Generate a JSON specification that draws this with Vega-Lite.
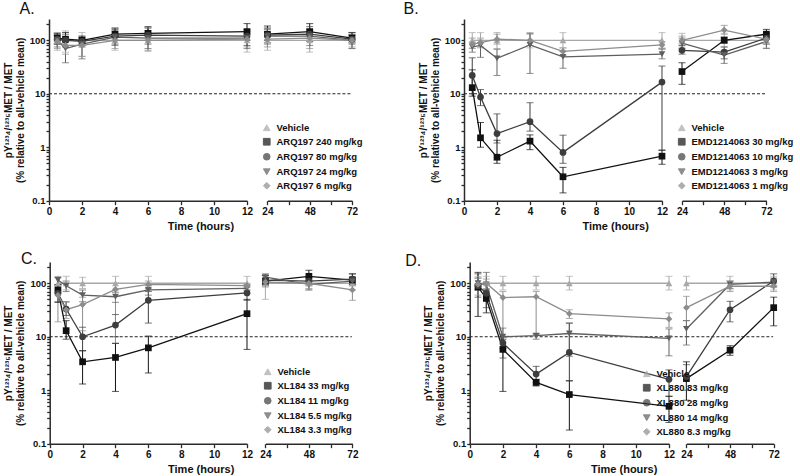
{
"width": 725, "height": 424.7,
"padding": {"left": 3, "top": 0, "right": 0, "bottom": 0},
"datasets": {
"A": [
{"s":"Vehicle","t":0.5,"v":100,"lo":65,"hi":140},{"s":"Vehicle","t":1,"v":100,"lo":60,"hi":150},{"s":"Vehicle","t":2,"v":100,"lo":50,"hi":140},{"s":"Vehicle","t":4,"v":100,"lo":65,"hi":165},{"s":"Vehicle","t":6,"v":100,"lo":62,"hi":170},{"s":"Vehicle","t":12,"v":100,"lo":60,"hi":150},{"s":"Vehicle","t":24,"v":100,"lo":65,"hi":165},{"s":"Vehicle","t":48,"v":100,"lo":60,"hi":160},{"s":"Vehicle","t":72,"v":100,"lo":70,"hi":140},
{"s":"ARQ197 240 mg/kg","t":0.5,"v":110,"lo":85,"hi":135},{"s":"ARQ197 240 mg/kg","t":1,"v":105,"lo":80,"hi":140},{"s":"ARQ197 240 mg/kg","t":2,"v":100,"lo":80,"hi":120},{"s":"ARQ197 240 mg/kg","t":4,"v":130,"lo":100,"hi":170},{"s":"ARQ197 240 mg/kg","t":6,"v":135,"lo":100,"hi":180},{"s":"ARQ197 240 mg/kg","t":12,"v":145,"lo":100,"hi":205},{"s":"ARQ197 240 mg/kg","t":24,"v":130,"lo":100,"hi":185},{"s":"ARQ197 240 mg/kg","t":48,"v":145,"lo":100,"hi":205},{"s":"ARQ197 240 mg/kg","t":72,"v":110,"lo":90,"hi":140},
{"s":"ARQ197 80 mg/kg","t":0.5,"v":105,"lo":85,"hi":130},{"s":"ARQ197 80 mg/kg","t":1,"v":100,"lo":75,"hi":130},{"s":"ARQ197 80 mg/kg","t":2,"v":95,"lo":75,"hi":115},{"s":"ARQ197 80 mg/kg","t":4,"v":120,"lo":85,"hi":160},{"s":"ARQ197 80 mg/kg","t":6,"v":125,"lo":85,"hi":170},{"s":"ARQ197 80 mg/kg","t":12,"v":120,"lo":80,"hi":160},{"s":"ARQ197 80 mg/kg","t":24,"v":125,"lo":90,"hi":170},{"s":"ARQ197 80 mg/kg","t":48,"v":130,"lo":95,"hi":180},{"s":"ARQ197 80 mg/kg","t":72,"v":105,"lo":85,"hi":130},
{"s":"ARQ197 24 mg/kg","t":0.5,"v":100,"lo":75,"hi":125},{"s":"ARQ197 24 mg/kg","t":1,"v":70,"lo":38,"hi":95},{"s":"ARQ197 24 mg/kg","t":2,"v":85,"lo":45,"hi":110},{"s":"ARQ197 24 mg/kg","t":4,"v":115,"lo":80,"hi":150},{"s":"ARQ197 24 mg/kg","t":6,"v":110,"lo":70,"hi":150},{"s":"ARQ197 24 mg/kg","t":12,"v":110,"lo":70,"hi":145},{"s":"ARQ197 24 mg/kg","t":24,"v":120,"lo":85,"hi":160},{"s":"ARQ197 24 mg/kg","t":48,"v":120,"lo":80,"hi":160},{"s":"ARQ197 24 mg/kg","t":72,"v":100,"lo":70,"hi":125},
{"s":"ARQ197 6 mg/kg","t":0.5,"v":95,"lo":70,"hi":125},{"s":"ARQ197 6 mg/kg","t":1,"v":80,"lo":55,"hi":110},{"s":"ARQ197 6 mg/kg","t":2,"v":80,"lo":50,"hi":105},{"s":"ARQ197 6 mg/kg","t":4,"v":100,"lo":70,"hi":135},{"s":"ARQ197 6 mg/kg","t":6,"v":100,"lo":65,"hi":140},{"s":"ARQ197 6 mg/kg","t":12,"v":105,"lo":75,"hi":135},{"s":"ARQ197 6 mg/kg","t":24,"v":105,"lo":75,"hi":140},{"s":"ARQ197 6 mg/kg","t":48,"v":110,"lo":70,"hi":150},{"s":"ARQ197 6 mg/kg","t":72,"v":100,"lo":75,"hi":125}
],
"B": [
{"s":"Vehicle","t":0.5,"v":100,"lo":72,"hi":139},{"s":"Vehicle","t":1,"v":100,"lo":72,"hi":139},{"s":"Vehicle","t":2,"v":100,"lo":70,"hi":140},{"s":"Vehicle","t":4,"v":100,"lo":72,"hi":139},{"s":"Vehicle","t":6,"v":100,"lo":72,"hi":139},{"s":"Vehicle","t":12,"v":100,"lo":72,"hi":139},{"s":"Vehicle","t":24,"v":100,"lo":75,"hi":135},{"s":"Vehicle","t":48,"v":100,"lo":75,"hi":135},{"s":"Vehicle","t":72,"v":100,"lo":72,"hi":139},
{"s":"EMD1214063 30 mg/kg","t":0.5,"v":13,"lo":9,"hi":28},{"s":"EMD1214063 30 mg/kg","t":1,"v":1.5,"lo":1.0,"hi":2.9},{"s":"EMD1214063 30 mg/kg","t":2,"v":0.65,"lo":0.5,"hi":1.35},{"s":"EMD1214063 30 mg/kg","t":4,"v":1.3,"lo":0.9,"hi":1.7},{"s":"EMD1214063 30 mg/kg","t":6,"v":0.28,"lo":0.14,"hi":0.42},{"s":"EMD1214063 30 mg/kg","t":12,"v":0.68,"lo":0.48,"hi":0.88},{"s":"EMD1214063 30 mg/kg","t":24,"v":26,"lo":15,"hi":38},{"s":"EMD1214063 30 mg/kg","t":48,"v":100,"lo":90,"hi":115},{"s":"EMD1214063 30 mg/kg","t":72,"v":130,"lo":105,"hi":160},
{"s":"EMD1214063 10 mg/kg","t":0.5,"v":22,"lo":12,"hi":47},{"s":"EMD1214063 10 mg/kg","t":1,"v":8.7,"lo":6,"hi":12},{"s":"EMD1214063 10 mg/kg","t":2,"v":1.8,"lo":1.2,"hi":4.2},{"s":"EMD1214063 10 mg/kg","t":4,"v":3.0,"lo":2.0,"hi":6.8},{"s":"EMD1214063 10 mg/kg","t":6,"v":0.8,"lo":0.5,"hi":1.68},{"s":"EMD1214063 10 mg/kg","t":12,"v":16.5,"lo":0.88,"hi":33},{"s":"EMD1214063 10 mg/kg","t":24,"v":65,"lo":55,"hi":80},{"s":"EMD1214063 10 mg/kg","t":48,"v":60,"lo":45,"hi":75},{"s":"EMD1214063 10 mg/kg","t":72,"v":110,"lo":85,"hi":135},
{"s":"EMD1214063 3 mg/kg","t":0.5,"v":75,"lo":60,"hi":92},{"s":"EMD1214063 3 mg/kg","t":1,"v":80,"lo":48,"hi":100},{"s":"EMD1214063 3 mg/kg","t":2,"v":46,"lo":22,"hi":68},{"s":"EMD1214063 3 mg/kg","t":4,"v":82,"lo":24,"hi":135},{"s":"EMD1214063 3 mg/kg","t":6,"v":49,"lo":30,"hi":62},{"s":"EMD1214063 3 mg/kg","t":12,"v":55,"lo":45,"hi":68},{"s":"EMD1214063 3 mg/kg","t":24,"v":88,"lo":70,"hi":110},{"s":"EMD1214063 3 mg/kg","t":48,"v":53,"lo":37,"hi":65},{"s":"EMD1214063 3 mg/kg","t":72,"v":95,"lo":70,"hi":115},
{"s":"EMD1214063 1 mg/kg","t":0.5,"v":85,"lo":70,"hi":110},{"s":"EMD1214063 1 mg/kg","t":1,"v":90,"lo":75,"hi":110},{"s":"EMD1214063 1 mg/kg","t":2,"v":105,"lo":85,"hi":130},{"s":"EMD1214063 1 mg/kg","t":4,"v":100,"lo":80,"hi":130},{"s":"EMD1214063 1 mg/kg","t":6,"v":62,"lo":52,"hi":72},{"s":"EMD1214063 1 mg/kg","t":12,"v":82,"lo":70,"hi":95},{"s":"EMD1214063 1 mg/kg","t":24,"v":100,"lo":85,"hi":120},{"s":"EMD1214063 1 mg/kg","t":48,"v":155,"lo":130,"hi":190},{"s":"EMD1214063 1 mg/kg","t":72,"v":105,"lo":85,"hi":125}
],
"C": [
{"s":"Vehicle","t":0.5,"v":100,"lo":75,"hi":135},{"s":"Vehicle","t":1,"v":100,"lo":75,"hi":135},{"s":"Vehicle","t":2,"v":100,"lo":80,"hi":130},{"s":"Vehicle","t":4,"v":100,"lo":75,"hi":135},{"s":"Vehicle","t":6,"v":100,"lo":75,"hi":135},{"s":"Vehicle","t":12,"v":100,"lo":75,"hi":135},{"s":"Vehicle","t":24,"v":100,"lo":50,"hi":135},{"s":"Vehicle","t":48,"v":100,"lo":75,"hi":125},{"s":"Vehicle","t":72,"v":100,"lo":75,"hi":130},
{"s":"XL184 33 mg/kg","t":0.5,"v":75,"lo":44,"hi":95},{"s":"XL184 33 mg/kg","t":1,"v":13,"lo":9,"hi":20},{"s":"XL184 33 mg/kg","t":2,"v":3.4,"lo":1.3,"hi":5.5},{"s":"XL184 33 mg/kg","t":4,"v":4.1,"lo":0.95,"hi":7.5},{"s":"XL184 33 mg/kg","t":6,"v":6.2,"lo":2.1,"hi":10.3},{"s":"XL184 33 mg/kg","t":12,"v":27,"lo":5.8,"hi":50},{"s":"XL184 33 mg/kg","t":24,"v":110,"lo":90,"hi":140},{"s":"XL184 33 mg/kg","t":48,"v":135,"lo":110,"hi":175},{"s":"XL184 33 mg/kg","t":72,"v":115,"lo":95,"hi":150},
{"s":"XL184 11 mg/kg","t":0.5,"v":65,"lo":45,"hi":90},{"s":"XL184 11 mg/kg","t":1,"v":33,"lo":25,"hi":45},{"s":"XL184 11 mg/kg","t":2,"v":10,"lo":5.5,"hi":15},{"s":"XL184 11 mg/kg","t":4,"v":16.5,"lo":10,"hi":26},{"s":"XL184 11 mg/kg","t":6,"v":48,"lo":18,"hi":70},{"s":"XL184 11 mg/kg","t":12,"v":66,"lo":48,"hi":85},{"s":"XL184 11 mg/kg","t":24,"v":115,"lo":95,"hi":140},{"s":"XL184 11 mg/kg","t":48,"v":110,"lo":90,"hi":130},{"s":"XL184 11 mg/kg","t":72,"v":120,"lo":100,"hi":150},
{"s":"XL184 5.5 mg/kg","t":0.5,"v":115,"lo":95,"hi":130},{"s":"XL184 5.5 mg/kg","t":1,"v":90,"lo":70,"hi":110},{"s":"XL184 5.5 mg/kg","t":2,"v":60,"lo":45,"hi":75},{"s":"XL184 5.5 mg/kg","t":4,"v":56,"lo":44,"hi":68},{"s":"XL184 5.5 mg/kg","t":6,"v":75,"lo":60,"hi":90},{"s":"XL184 5.5 mg/kg","t":12,"v":80,"lo":65,"hi":95},{"s":"XL184 5.5 mg/kg","t":24,"v":130,"lo":110,"hi":150},{"s":"XL184 5.5 mg/kg","t":48,"v":95,"lo":75,"hi":110},{"s":"XL184 5.5 mg/kg","t":72,"v":110,"lo":90,"hi":130},
{"s":"XL184 3.3 mg/kg","t":0.5,"v":60,"lo":19,"hi":90},{"s":"XL184 3.3 mg/kg","t":1,"v":32,"lo":22,"hi":45},{"s":"XL184 3.3 mg/kg","t":2,"v":40,"lo":13,"hi":55},{"s":"XL184 3.3 mg/kg","t":4,"v":77,"lo":7.6,"hi":100},{"s":"XL184 3.3 mg/kg","t":6,"v":95,"lo":80,"hi":110},{"s":"XL184 3.3 mg/kg","t":12,"v":90,"lo":75,"hi":100},{"s":"XL184 3.3 mg/kg","t":24,"v":105,"lo":85,"hi":125},{"s":"XL184 3.3 mg/kg","t":48,"v":100,"lo":80,"hi":115},{"s":"XL184 3.3 mg/kg","t":72,"v":75,"lo":48,"hi":100}
],
"D": [
{"s":"Vehicle","t":0.5,"v":100,"lo":75,"hi":135},{"s":"Vehicle","t":1,"v":100,"lo":75,"hi":135},{"s":"Vehicle","t":2,"v":100,"lo":75,"hi":135},{"s":"Vehicle","t":4,"v":100,"lo":75,"hi":135},{"s":"Vehicle","t":6,"v":100,"lo":75,"hi":135},{"s":"Vehicle","t":12,"v":100,"lo":75,"hi":135},{"s":"Vehicle","t":24,"v":100,"lo":75,"hi":135},{"s":"Vehicle","t":48,"v":100,"lo":75,"hi":135},{"s":"Vehicle","t":72,"v":100,"lo":75,"hi":135},
{"s":"XL880 83 mg/kg","t":0.5,"v":85,"lo":24,"hi":160},{"s":"XL880 83 mg/kg","t":1,"v":52,"lo":28,"hi":75},{"s":"XL880 83 mg/kg","t":2,"v":5.8,"lo":0.95,"hi":9},{"s":"XL880 83 mg/kg","t":4,"v":1.4,"lo":1.2,"hi":1.6},{"s":"XL880 83 mg/kg","t":6,"v":0.83,"lo":0.18,"hi":1.5},{"s":"XL880 83 mg/kg","t":12,"v":0.5,"lo":0.25,"hi":0.77},{"s":"XL880 83 mg/kg","t":24,"v":1.65,"lo":0.65,"hi":3.4},{"s":"XL880 83 mg/kg","t":48,"v":5.6,"lo":4.5,"hi":6.8},{"s":"XL880 83 mg/kg","t":72,"v":35,"lo":16,"hi":55},
{"s":"XL880 28 mg/kg","t":0.5,"v":90,"lo":55,"hi":150},{"s":"XL880 28 mg/kg","t":1,"v":65,"lo":35,"hi":95},{"s":"XL880 28 mg/kg","t":2,"v":7.6,"lo":4,"hi":10},{"s":"XL880 28 mg/kg","t":4,"v":2.0,"lo":1.4,"hi":2.8},{"s":"XL880 28 mg/kg","t":6,"v":5.1,"lo":1.5,"hi":18},{"s":"XL880 28 mg/kg","t":12,"v":1.6,"lo":0.77,"hi":2.4},{"s":"XL880 28 mg/kg","t":24,"v":1.8,"lo":1.0,"hi":3.0},{"s":"XL880 28 mg/kg","t":48,"v":32,"lo":19,"hi":46},{"s":"XL880 28 mg/kg","t":72,"v":110,"lo":85,"hi":150},
{"s":"XL880 14 mg/kg","t":0.5,"v":100,"lo":75,"hi":125},{"s":"XL880 14 mg/kg","t":1,"v":95,"lo":70,"hi":160},{"s":"XL880 14 mg/kg","t":2,"v":10,"lo":6,"hi":14.5},{"s":"XL880 14 mg/kg","t":4,"v":10.5,"lo":9,"hi":11.5},{"s":"XL880 14 mg/kg","t":6,"v":11.5,"lo":4.3,"hi":18},{"s":"XL880 14 mg/kg","t":12,"v":9.3,"lo":4.4,"hi":14},{"s":"XL880 14 mg/kg","t":24,"v":14,"lo":7,"hi":20},{"s":"XL880 14 mg/kg","t":48,"v":95,"lo":80,"hi":110},{"s":"XL880 14 mg/kg","t":72,"v":105,"lo":90,"hi":125},
{"s":"XL880 8.3 mg/kg","t":0.5,"v":95,"lo":60,"hi":125},{"s":"XL880 8.3 mg/kg","t":1,"v":100,"lo":80,"hi":120},{"s":"XL880 8.3 mg/kg","t":2,"v":54,"lo":10,"hi":70},{"s":"XL880 8.3 mg/kg","t":4,"v":56,"lo":11,"hi":70},{"s":"XL880 8.3 mg/kg","t":6,"v":27,"lo":22,"hi":32},{"s":"XL880 8.3 mg/kg","t":12,"v":21.5,"lo":15,"hi":28},{"s":"XL880 8.3 mg/kg","t":24,"v":35,"lo":20,"hi":57},{"s":"XL880 8.3 mg/kg","t":48,"v":88,"lo":70,"hi":110},{"s":"XL880 8.3 mg/kg","t":72,"v":88,"lo":70,"hi":100}
]
},
"resolve": {"scale": {"x": "independent", "y": "independent", "color": "independent", "shape": "independent"}, "axis": {"x": "independent", "y": "independent"}, "legend": {"color": "independent", "shape": "independent"}},
"layer": [
{
"data": {"name": "A"},
"resolve": {"scale": {"x": "independent"}, "axis": {"x": "independent"}},
"encoding": {
 "y": {"field": "v", "type": "quantitative", "scale": {"type": "log", "domain": [0.1, 250], "nice": false, "range": [181.7, 0]}, "axis": {"orient": "left", "offset": 0, "title": ["pY¹²³⁴/¹²³⁵MET / MET", "(% relative to all-vehicle mean)"], "values": [0.1,0.2,0.3,0.4,0.5,0.6,0.7,0.8,0.9,1,2,3,4,5,6,7,8,9,10,20,30,40,50,60,70,80,90,100,200], "format": "~g", "labelExpr": "datum.value == 0.1 || datum.value == 1 || datum.value == 10 || datum.value == 100 ? datum.label : ''", "tickSize": 3, "labelOverlap": false}},
 "color": {"field": "s", "type": "nominal", "scale": {"domain": ["Vehicle","ARQ197 240 mg/kg","ARQ197 80 mg/kg","ARQ197 24 mg/kg","ARQ197 6 mg/kg"], "range": ["#a8a8a8","#111111","#3d3d3d","#5f5f5f","#8c8c8c"]}, "legend": {"title": null, "orient": "none", "legendX": 213, "legendY": 104}}
},
"layer": [
{"encoding": {"x": {"field": "t", "type": "quantitative", "scale": {"domain": [0, 12], "range": [0, 198], "nice": false, "zero": false}, "axis": {"orient": "bottom", "offset": -243, "title": "Time (hours)", "titleX": 151.4, "values": [0,2,4,6,8,10,12], "format": "d", "labelFlush": false, "labelOverlap": false, "tickSize": 4}}},
 "layer": [
 {"transform": [{"filter": "datum.s == 'Vehicle' && datum.t == 12"}], "mark": {"type": "rule", "strokeDash": [3, 2], "strokeWidth": 1}, "encoding": {"x": {"datum": 0}, "x2": {"datum": 13.2}, "y": {"datum": 10, "type": "quantitative", "scale": {"type": "log", "domain": [0.1, 250], "nice": false, "range": [181.7, 0]}}, "color": {"value": "#222222"}}},
 {"transform": [{"filter": "datum.t <= 12"}], "mark": {"type": "rule", "strokeWidth": 1}, "encoding": {"y": {"field": "lo", "type": "quantitative", "scale": {"type": "log", "domain": [0.1, 250], "nice": false, "range": [181.7, 0]}}, "y2": {"field": "hi"}}},
 {"transform": [{"filter": "datum.t <= 12"}], "mark": {"type": "tick", "orient": "horizontal", "size": 7, "thickness": 1}, "encoding": {"y": {"field": "lo", "type": "quantitative", "scale": {"type": "log", "domain": [0.1, 250], "nice": false, "range": [181.7, 0]}}}},
 {"transform": [{"filter": "datum.t <= 12"}], "mark": {"type": "tick", "orient": "horizontal", "size": 7, "thickness": 1}, "encoding": {"y": {"field": "hi", "type": "quantitative", "scale": {"type": "log", "domain": [0.1, 250], "nice": false, "range": [181.7, 0]}}}},
 {"transform": [{"filter": "datum.t <= 12"}], "mark": {"type": "line", "strokeWidth": 1.3}, "encoding": {}},
 {"transform": [{"filter": "datum.t <= 12"}], "mark": {"type": "point", "filled": true, "opacity": 1, "size": 45}, "encoding": {"shape": {"field": "s", "type": "nominal", "scale": {"domain": ["Vehicle","ARQ197 240 mg/kg","ARQ197 80 mg/kg","ARQ197 24 mg/kg","ARQ197 6 mg/kg"], "range": ["triangle-up","square","circle","triangle-down","diamond"]}, "legend": {"title": null, "orient": "none", "legendX": 213, "legendY": 104}}}}
 ]},
{"encoding": {"x": {"field": "t", "type": "quantitative", "scale": {"domain": [24, 72], "range": [218.4, 303], "nice": false, "zero": false}, "axis": {"orient": "bottom", "offset": -243, "title": "A.", "titleX": -30, "titleY": -187.4, "titleAlign": "left", "titleBaseline": "alphabetic", "titleFontSize": 16, "titleFontWeight": "normal", "values": [24,36,48,60,72], "format": "d", "labelExpr": "datum.value % 24 == 0 ? datum.label : ''", "tickSize": 4, "labelFlush": false, "labelOverlap": false}}},
 "layer": [
 {"transform": [{"filter": "datum.s == 'Vehicle' && datum.t == 72"}], "mark": {"type": "rule", "strokeDash": [3, 2], "strokeWidth": 1}, "encoding": {"x": {"datum": 24}, "x2": {"datum": 71.7}, "y": {"datum": 10, "type": "quantitative", "scale": {"type": "log", "domain": [0.1, 250], "nice": false, "range": [181.7, 0]}}, "color": {"value": "#222222"}}},
 {"transform": [{"filter": "datum.t >= 24"}], "mark": {"type": "rule", "strokeWidth": 1}, "encoding": {"y": {"field": "lo", "type": "quantitative", "scale": {"type": "log", "domain": [0.1, 250], "nice": false, "range": [181.7, 0]}}, "y2": {"field": "hi"}}},
 {"transform": [{"filter": "datum.t >= 24"}], "mark": {"type": "tick", "orient": "horizontal", "size": 7, "thickness": 1}, "encoding": {"y": {"field": "lo", "type": "quantitative", "scale": {"type": "log", "domain": [0.1, 250], "nice": false, "range": [181.7, 0]}}}},
 {"transform": [{"filter": "datum.t >= 24"}], "mark": {"type": "tick", "orient": "horizontal", "size": 7, "thickness": 1}, "encoding": {"y": {"field": "hi", "type": "quantitative", "scale": {"type": "log", "domain": [0.1, 250], "nice": false, "range": [181.7, 0]}}}},
 {"transform": [{"filter": "datum.t >= 24"}], "mark": {"type": "line", "strokeWidth": 1.3}, "encoding": {}},
 {"transform": [{"filter": "datum.t >= 24"}], "mark": {"type": "point", "filled": true, "opacity": 1, "size": 45}, "encoding": {"shape": {"field": "s", "type": "nominal", "scale": {"domain": ["Vehicle","ARQ197 240 mg/kg","ARQ197 80 mg/kg","ARQ197 24 mg/kg","ARQ197 6 mg/kg"], "range": ["triangle-up","square","circle","triangle-down","diamond"]}, "legend": {"title": null, "orient": "none", "legendX": 213, "legendY": 104}}}}
 ]}
]
},
{
"data": {"name": "B"},
"resolve": {"scale": {"x": "independent"}, "axis": {"x": "independent"}},
"encoding": {
 "y": {"field": "v", "type": "quantitative", "scale": {"type": "log", "domain": [0.1, 250], "nice": false, "range": [181.7, 0]}, "axis": {"orient": "left", "offset": -415, "title": ["pY¹²³⁴/¹²³⁵MET / MET", "(% relative to all-vehicle mean)"], "values": [0.1,0.2,0.3,0.4,0.5,0.6,0.7,0.8,0.9,1,2,3,4,5,6,7,8,9,10,20,30,40,50,60,70,80,90,100,200], "format": "~g", "labelExpr": "datum.value == 0.1 || datum.value == 1 || datum.value == 10 || datum.value == 100 ? datum.label : ''", "tickSize": 3, "labelOverlap": false}},
 "color": {"field": "s", "type": "nominal", "scale": {"domain": ["Vehicle","EMD1214063 30 mg/kg","EMD1214063 10 mg/kg","EMD1214063 3 mg/kg","EMD1214063 1 mg/kg"], "range": ["#a8a8a8","#111111","#3d3d3d","#5f5f5f","#8c8c8c"]}, "legend": {"title": null, "orient": "none", "legendX": 628, "legendY": 104}}
},
"layer": [
{"encoding": {"x": {"field": "t", "type": "quantitative", "scale": {"domain": [0, 12], "range": [415, 613], "nice": false, "zero": false}, "axis": {"orient": "bottom", "offset": -243, "title": "Time (hours)", "titleX": 566.2, "values": [0,2,4,6,8,10,12], "format": "d", "labelFlush": false, "labelOverlap": false, "tickSize": 4}}},
 "layer": [
 {"transform": [{"filter": "datum.s == 'Vehicle' && datum.t == 12"}], "mark": {"type": "rule", "strokeDash": [3, 2], "strokeWidth": 1}, "encoding": {"x": {"datum": 0}, "x2": {"datum": 13.2}, "y": {"datum": 10, "type": "quantitative", "scale": {"type": "log", "domain": [0.1, 250], "nice": false, "range": [181.7, 0]}}, "color": {"value": "#222222"}}},
 {"transform": [{"filter": "datum.t <= 12"}], "mark": {"type": "rule", "strokeWidth": 1}, "encoding": {"y": {"field": "lo", "type": "quantitative", "scale": {"type": "log", "domain": [0.1, 250], "nice": false, "range": [181.7, 0]}}, "y2": {"field": "hi"}}},
 {"transform": [{"filter": "datum.t <= 12"}], "mark": {"type": "tick", "orient": "horizontal", "size": 7, "thickness": 1}, "encoding": {"y": {"field": "lo", "type": "quantitative", "scale": {"type": "log", "domain": [0.1, 250], "nice": false, "range": [181.7, 0]}}}},
 {"transform": [{"filter": "datum.t <= 12"}], "mark": {"type": "tick", "orient": "horizontal", "size": 7, "thickness": 1}, "encoding": {"y": {"field": "hi", "type": "quantitative", "scale": {"type": "log", "domain": [0.1, 250], "nice": false, "range": [181.7, 0]}}}},
 {"transform": [{"filter": "datum.t <= 12"}], "mark": {"type": "line", "strokeWidth": 1.3}, "encoding": {}},
 {"transform": [{"filter": "datum.t <= 12"}], "mark": {"type": "point", "filled": true, "opacity": 1, "size": 45}, "encoding": {"shape": {"field": "s", "type": "nominal", "scale": {"domain": ["Vehicle","EMD1214063 30 mg/kg","EMD1214063 10 mg/kg","EMD1214063 3 mg/kg","EMD1214063 1 mg/kg"], "range": ["triangle-up","square","circle","triangle-down","diamond"]}, "legend": {"title": null, "orient": "none", "legendX": 628, "legendY": 104}}}}
 ]},
{"encoding": {"x": {"field": "t", "type": "quantitative", "scale": {"domain": [24, 72], "range": [633, 717.4], "nice": false, "zero": false}, "axis": {"orient": "bottom", "offset": -243, "title": "B.", "titleX": 354, "titleY": -186.7, "titleAlign": "left", "titleBaseline": "alphabetic", "titleFontSize": 16, "titleFontWeight": "normal", "values": [24,36,48,60,72], "format": "d", "labelExpr": "datum.value % 24 == 0 ? datum.label : ''", "tickSize": 4, "labelFlush": false, "labelOverlap": false}}},
 "layer": [
 {"transform": [{"filter": "datum.s == 'Vehicle' && datum.t == 72"}], "mark": {"type": "rule", "strokeDash": [3, 2], "strokeWidth": 1}, "encoding": {"x": {"datum": 24}, "x2": {"datum": 71.7}, "y": {"datum": 10, "type": "quantitative", "scale": {"type": "log", "domain": [0.1, 250], "nice": false, "range": [181.7, 0]}}, "color": {"value": "#222222"}}},
 {"transform": [{"filter": "datum.t >= 24"}], "mark": {"type": "rule", "strokeWidth": 1}, "encoding": {"y": {"field": "lo", "type": "quantitative", "scale": {"type": "log", "domain": [0.1, 250], "nice": false, "range": [181.7, 0]}}, "y2": {"field": "hi"}}},
 {"transform": [{"filter": "datum.t >= 24"}], "mark": {"type": "tick", "orient": "horizontal", "size": 7, "thickness": 1}, "encoding": {"y": {"field": "lo", "type": "quantitative", "scale": {"type": "log", "domain": [0.1, 250], "nice": false, "range": [181.7, 0]}}}},
 {"transform": [{"filter": "datum.t >= 24"}], "mark": {"type": "tick", "orient": "horizontal", "size": 7, "thickness": 1}, "encoding": {"y": {"field": "hi", "type": "quantitative", "scale": {"type": "log", "domain": [0.1, 250], "nice": false, "range": [181.7, 0]}}}},
 {"transform": [{"filter": "datum.t >= 24"}], "mark": {"type": "line", "strokeWidth": 1.3}, "encoding": {}},
 {"transform": [{"filter": "datum.t >= 24"}], "mark": {"type": "point", "filled": true, "opacity": 1, "size": 45}, "encoding": {"shape": {"field": "s", "type": "nominal", "scale": {"domain": ["Vehicle","EMD1214063 30 mg/kg","EMD1214063 10 mg/kg","EMD1214063 3 mg/kg","EMD1214063 1 mg/kg"], "range": ["triangle-up","square","circle","triangle-down","diamond"]}, "legend": {"title": null, "orient": "none", "legendX": 628, "legendY": 104}}}}
 ]}
]
},
{
"data": {"name": "C"},
"resolve": {"scale": {"x": "independent"}, "axis": {"x": "independent"}},
"encoding": {
 "y": {"field": "v", "type": "quantitative", "scale": {"type": "log", "domain": [0.1, 250], "nice": false, "range": [424.7, 243]}, "axis": {"orient": "left", "offset": -0.7, "title": ["pY¹²³⁴/¹²³⁵MET / MET", "(% relative to all-vehicle mean)"], "values": [0.1,0.2,0.3,0.4,0.5,0.6,0.7,0.8,0.9,1,2,3,4,5,6,7,8,9,10,20,30,40,50,60,70,80,90,100,200], "format": "~g", "labelExpr": "datum.value == 0.1 || datum.value == 1 || datum.value == 10 || datum.value == 100 ? datum.label : ''", "tickSize": 3, "labelOverlap": false}},
 "color": {"field": "s", "type": "nominal", "scale": {"domain": ["Vehicle","XL184 33 mg/kg","XL184 11 mg/kg","XL184 5.5 mg/kg","XL184 3.3 mg/kg"], "range": ["#a8a8a8","#111111","#3d3d3d","#5f5f5f","#8c8c8c"]}, "legend": {"title": null, "orient": "none", "legendX": 214, "legendY": 348}}
},
"layer": [
{"encoding": {"x": {"field": "t", "type": "quantitative", "scale": {"domain": [0, 12], "range": [0.7, 198], "nice": false, "zero": false}, "axis": {"orient": "bottom", "offset": 0, "title": "Time (hours)", "titleX": 151.7, "values": [0,2,4,6,8,10,12], "format": "d", "labelFlush": false, "labelOverlap": false, "tickSize": 4}}},
 "layer": [
 {"transform": [{"filter": "datum.s == 'Vehicle' && datum.t == 12"}], "mark": {"type": "rule", "strokeDash": [3, 2], "strokeWidth": 1}, "encoding": {"x": {"datum": 0}, "x2": {"datum": 13.1}, "y": {"datum": 10, "type": "quantitative", "scale": {"type": "log", "domain": [0.1, 250], "nice": false, "range": [424.7, 243]}}, "color": {"value": "#222222"}}},
 {"transform": [{"filter": "datum.t <= 12"}], "mark": {"type": "rule", "strokeWidth": 1}, "encoding": {"y": {"field": "lo", "type": "quantitative", "scale": {"type": "log", "domain": [0.1, 250], "nice": false, "range": [424.7, 243]}}, "y2": {"field": "hi"}}},
 {"transform": [{"filter": "datum.t <= 12"}], "mark": {"type": "tick", "orient": "horizontal", "size": 7, "thickness": 1}, "encoding": {"y": {"field": "lo", "type": "quantitative", "scale": {"type": "log", "domain": [0.1, 250], "nice": false, "range": [424.7, 243]}}}},
 {"transform": [{"filter": "datum.t <= 12"}], "mark": {"type": "tick", "orient": "horizontal", "size": 7, "thickness": 1}, "encoding": {"y": {"field": "hi", "type": "quantitative", "scale": {"type": "log", "domain": [0.1, 250], "nice": false, "range": [424.7, 243]}}}},
 {"transform": [{"filter": "datum.t <= 12"}], "mark": {"type": "line", "strokeWidth": 1.3}, "encoding": {}},
 {"transform": [{"filter": "datum.t <= 12"}], "mark": {"type": "point", "filled": true, "opacity": 1, "size": 45}, "encoding": {"shape": {"field": "s", "type": "nominal", "scale": {"domain": ["Vehicle","XL184 33 mg/kg","XL184 11 mg/kg","XL184 5.5 mg/kg","XL184 3.3 mg/kg"], "range": ["triangle-up","square","circle","triangle-down","diamond"]}, "legend": {"title": null, "orient": "none", "legendX": 214, "legendY": 348}}}}
 ]},
{"encoding": {"x": {"field": "t", "type": "quantitative", "scale": {"domain": [24, 72], "range": [216.4, 303.4], "nice": false, "zero": false}, "axis": {"orient": "bottom", "offset": 0, "title": "C.", "titleX": -28.6, "titleY": -179.7, "titleAlign": "left", "titleBaseline": "alphabetic", "titleFontSize": 16, "titleFontWeight": "normal", "values": [24,36,48,60,72], "format": "d", "labelExpr": "datum.value % 24 == 0 ? datum.label : ''", "tickSize": 4, "labelFlush": false, "labelOverlap": false}}},
 "layer": [
 {"transform": [{"filter": "datum.s == 'Vehicle' && datum.t == 72"}], "mark": {"type": "rule", "strokeDash": [3, 2], "strokeWidth": 1}, "encoding": {"x": {"datum": 24}, "x2": {"datum": 71.7}, "y": {"datum": 10, "type": "quantitative", "scale": {"type": "log", "domain": [0.1, 250], "nice": false, "range": [424.7, 243]}}, "color": {"value": "#222222"}}},
 {"transform": [{"filter": "datum.t >= 24"}], "mark": {"type": "rule", "strokeWidth": 1}, "encoding": {"y": {"field": "lo", "type": "quantitative", "scale": {"type": "log", "domain": [0.1, 250], "nice": false, "range": [424.7, 243]}}, "y2": {"field": "hi"}}},
 {"transform": [{"filter": "datum.t >= 24"}], "mark": {"type": "tick", "orient": "horizontal", "size": 7, "thickness": 1}, "encoding": {"y": {"field": "lo", "type": "quantitative", "scale": {"type": "log", "domain": [0.1, 250], "nice": false, "range": [424.7, 243]}}}},
 {"transform": [{"filter": "datum.t >= 24"}], "mark": {"type": "tick", "orient": "horizontal", "size": 7, "thickness": 1}, "encoding": {"y": {"field": "hi", "type": "quantitative", "scale": {"type": "log", "domain": [0.1, 250], "nice": false, "range": [424.7, 243]}}}},
 {"transform": [{"filter": "datum.t >= 24"}], "mark": {"type": "line", "strokeWidth": 1.3}, "encoding": {}},
 {"transform": [{"filter": "datum.t >= 24"}], "mark": {"type": "point", "filled": true, "opacity": 1, "size": 45}, "encoding": {"shape": {"field": "s", "type": "nominal", "scale": {"domain": ["Vehicle","XL184 33 mg/kg","XL184 11 mg/kg","XL184 5.5 mg/kg","XL184 3.3 mg/kg"], "range": ["triangle-up","square","circle","triangle-down","diamond"]}, "legend": {"title": null, "orient": "none", "legendX": 214, "legendY": 348}}}}
 ]}
]
},
{
"data": {"name": "D"},
"resolve": {"scale": {"x": "independent"}, "axis": {"x": "independent"}},
"encoding": {
 "y": {"field": "v", "type": "quantitative", "scale": {"type": "log", "domain": [0.1, 250], "nice": false, "range": [424.7, 243]}, "axis": {"orient": "left", "offset": -420.7, "title": ["pY¹²³⁴/¹²³⁵MET / MET", "(% relative to all-vehicle mean)"], "values": [0.1,0.2,0.3,0.4,0.5,0.6,0.7,0.8,0.9,1,2,3,4,5,6,7,8,9,10,20,30,40,50,60,70,80,90,100,200], "format": "~g", "labelExpr": "datum.value == 0.1 || datum.value == 1 || datum.value == 10 || datum.value == 100 ? datum.label : ''", "tickSize": 3, "labelOverlap": false}},
 "color": {"field": "s", "type": "nominal", "scale": {"domain": ["Vehicle","XL880 83 mg/kg","XL880 28 mg/kg","XL880 14 mg/kg","XL880 8.3 mg/kg"], "range": ["#a8a8a8","#111111","#3d3d3d","#5f5f5f","#8c8c8c"]}, "legend": {"title": null, "orient": "none", "legendX": 593, "legendY": 350}}
},
"layer": [
{"encoding": {"x": {"field": "t", "type": "quantitative", "scale": {"domain": [0, 12], "range": [420.7, 620], "nice": false, "zero": false}, "axis": {"orient": "bottom", "offset": 0, "title": "Time (hours)", "titleX": 574.7, "values": [0,2,4,6,8,10,12], "format": "d", "labelFlush": false, "labelOverlap": false, "tickSize": 4}}},
 "layer": [
 {"transform": [{"filter": "datum.s == 'Vehicle' && datum.t == 12"}], "mark": {"type": "rule", "strokeDash": [3, 2], "strokeWidth": 1}, "encoding": {"x": {"datum": 0}, "x2": {"datum": 13.1}, "y": {"datum": 10, "type": "quantitative", "scale": {"type": "log", "domain": [0.1, 250], "nice": false, "range": [424.7, 243]}}, "color": {"value": "#222222"}}},
 {"transform": [{"filter": "datum.t <= 12"}], "mark": {"type": "rule", "strokeWidth": 1}, "encoding": {"y": {"field": "lo", "type": "quantitative", "scale": {"type": "log", "domain": [0.1, 250], "nice": false, "range": [424.7, 243]}}, "y2": {"field": "hi"}}},
 {"transform": [{"filter": "datum.t <= 12"}], "mark": {"type": "tick", "orient": "horizontal", "size": 7, "thickness": 1}, "encoding": {"y": {"field": "lo", "type": "quantitative", "scale": {"type": "log", "domain": [0.1, 250], "nice": false, "range": [424.7, 243]}}}},
 {"transform": [{"filter": "datum.t <= 12"}], "mark": {"type": "tick", "orient": "horizontal", "size": 7, "thickness": 1}, "encoding": {"y": {"field": "hi", "type": "quantitative", "scale": {"type": "log", "domain": [0.1, 250], "nice": false, "range": [424.7, 243]}}}},
 {"transform": [{"filter": "datum.t <= 12"}], "mark": {"type": "line", "strokeWidth": 1.3}, "encoding": {}},
 {"transform": [{"filter": "datum.t <= 12"}], "mark": {"type": "point", "filled": true, "opacity": 1, "size": 45}, "encoding": {"shape": {"field": "s", "type": "nominal", "scale": {"domain": ["Vehicle","XL880 83 mg/kg","XL880 28 mg/kg","XL880 14 mg/kg","XL880 8.3 mg/kg"], "range": ["triangle-up","square","circle","triangle-down","diamond"]}, "legend": {"title": null, "orient": "none", "legendX": 593, "legendY": 350}}}}
 ]},
{"encoding": {"x": {"field": "t", "type": "quantitative", "scale": {"domain": [24, 72], "range": [637.4, 724.7], "nice": false, "zero": false}, "axis": {"orient": "bottom", "offset": 0, "title": "D.", "titleX": 355.7, "titleY": -177.7, "titleAlign": "left", "titleBaseline": "alphabetic", "titleFontSize": 16, "titleFontWeight": "normal", "values": [24,36,48,60,72], "format": "d", "labelExpr": "datum.value % 24 == 0 ? datum.label : ''", "tickSize": 4, "labelFlush": false, "labelOverlap": false}}},
 "layer": [
 {"transform": [{"filter": "datum.s == 'Vehicle' && datum.t == 72"}], "mark": {"type": "rule", "strokeDash": [3, 2], "strokeWidth": 1}, "encoding": {"x": {"datum": 24}, "x2": {"datum": 71.7}, "y": {"datum": 10, "type": "quantitative", "scale": {"type": "log", "domain": [0.1, 250], "nice": false, "range": [424.7, 243]}}, "color": {"value": "#222222"}}},
 {"transform": [{"filter": "datum.t >= 24"}], "mark": {"type": "rule", "strokeWidth": 1}, "encoding": {"y": {"field": "lo", "type": "quantitative", "scale": {"type": "log", "domain": [0.1, 250], "nice": false, "range": [424.7, 243]}}, "y2": {"field": "hi"}}},
 {"transform": [{"filter": "datum.t >= 24"}], "mark": {"type": "tick", "orient": "horizontal", "size": 7, "thickness": 1}, "encoding": {"y": {"field": "lo", "type": "quantitative", "scale": {"type": "log", "domain": [0.1, 250], "nice": false, "range": [424.7, 243]}}}},
 {"transform": [{"filter": "datum.t >= 24"}], "mark": {"type": "tick", "orient": "horizontal", "size": 7, "thickness": 1}, "encoding": {"y": {"field": "hi", "type": "quantitative", "scale": {"type": "log", "domain": [0.1, 250], "nice": false, "range": [424.7, 243]}}}},
 {"transform": [{"filter": "datum.t >= 24"}], "mark": {"type": "line", "strokeWidth": 1.3}, "encoding": {}},
 {"transform": [{"filter": "datum.t >= 24"}], "mark": {"type": "point", "filled": true, "opacity": 1, "size": 45}, "encoding": {"shape": {"field": "s", "type": "nominal", "scale": {"domain": ["Vehicle","XL880 83 mg/kg","XL880 28 mg/kg","XL880 14 mg/kg","XL880 8.3 mg/kg"], "range": ["triangle-up","square","circle","triangle-down","diamond"]}, "legend": {"title": null, "orient": "none", "legendX": 593, "legendY": 350}}}}
 ]}
]
}
],
"config": {
  "view": {"stroke": null},
  "font": "Liberation Sans",
  "axis": {"grid": false, "domainColor": "#2b2b2b", "domainWidth": 1.5, "tickColor": "#2b2b2b", "tickWidth": 1.3, "labelFont": "Liberation Sans", "labelFontSize": 10, "labelFontWeight": "bold", "labelColor": "#111", "labelPadding": 2, "titleFont": "Liberation Sans", "titleFontSize": 11, "titleFontWeight": "bold", "titleColor": "#111", "titlePadding": 4},
  "axisY": {"labelFontSize": 9.5, "labelPadding": 1, "titleFontSize": 10, "titlePadding": 4, "titleLineHeight": 12},
  "legend": {"labelFont": "Liberation Sans", "labelFontSize": 9.5, "labelFontWeight": "bold", "labelColor": "#111", "symbolSize": 45, "symbolStrokeWidth": 1, "rowPadding": 3, "labelOffset": 5, "padding": 0},
  "title": {"font": "Liberation Sans"}
}
}
